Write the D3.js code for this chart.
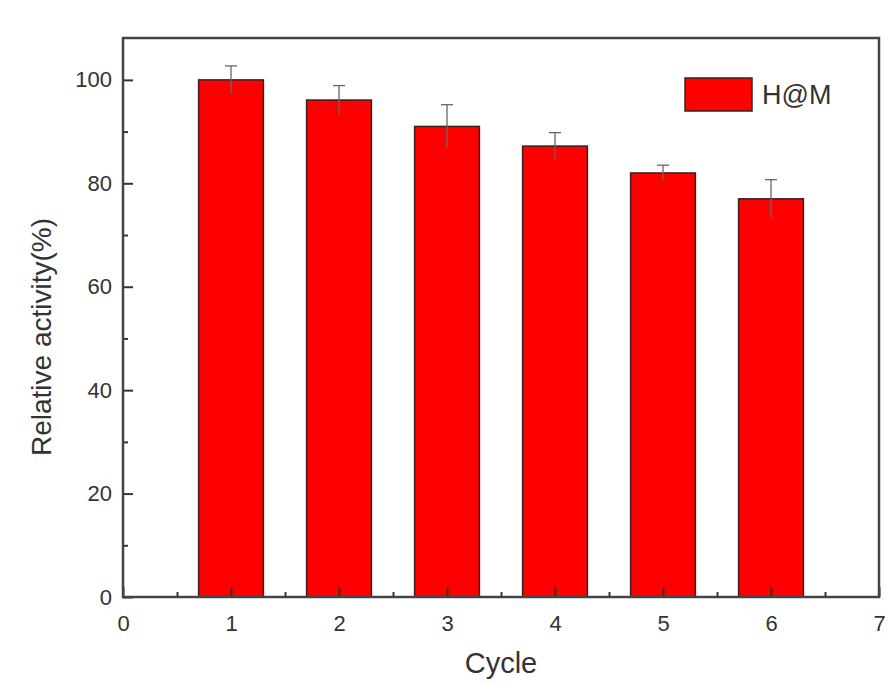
<!DOCTYPE html>
<html>
<head>
<meta charset="utf-8">
<script src="https://cdn.jsdelivr.net/npm/d3@7"></script>
<style>
    body { margin: 0; background: #fff; }
    svg text { font-family: "Liberation Sans", Arial, sans-serif; fill: #333; }
</style>
</head>
<body>
<div id="chart-area"></div>
<script>
// data
const cycles = [1, 2, 3, 4, 5, 6];
const activity = [100, 96.1, 91.0, 87.2, 82.0, 77.0];
const errors = [2.7, 2.8, 4.2, 2.6, 1.5, 3.7];
const xTicks = [0, 1, 2, 3, 4, 5, 6, 7];
const yTicks = [0, 20, 40, 60, 80, 100];
const seriesName = "H@M";

(function () {
    'use strict';

    const MARGIN = {LEFT: 123, RIGHT: 9, TOP: 38, BOTTOM: 87};
    const WIDTH = 888 - MARGIN.LEFT - MARGIN.RIGHT;
    const HEIGHT = 684 - MARGIN.TOP - MARGIN.BOTTOM;

    const svg = d3.select("#chart-area").append("svg")
        .attr("width", 888)
        .attr("height", 684);
    const graph = svg.append("g")
        .attr("transform", `translate(${MARGIN.LEFT}, ${MARGIN.TOP})`);

    const xScale = d3.scaleLinear().domain([0, 7]).range([0, WIDTH]);
    const yScale = d3.scaleLinear().domain([0, 108.1]).range([HEIGHT, 0]);
    const barW = xScale(0.6) - xScale(0);

    // bars
    graph.selectAll("rect.bar")
        .data(cycles)
        .enter().append("rect")
        .attr("class", "bar")
        .attr("x", (d) => xScale(d) - barW / 2)
        .attr("y", (d, i) => yScale(activity[i]))
        .attr("width", barW)
        .attr("height", (d, i) => HEIGHT - yScale(activity[i]))
        .attr("fill", "#ff0000")
        .attr("stroke", "#3a2020")
        .attr("stroke-width", 1.5);

    // error bars (upper half shows above the bar, lower half inside)
    const err = graph.append("g").attr("stroke", "#666").attr("stroke-width", 1.3);
    cycles.forEach((c, i) => {
        const x = xScale(c);
        err.append("line")
            .attr("x1", x).attr("x2", x)
            .attr("y1", yScale(activity[i] + errors[i]))
            .attr("y2", yScale(activity[i] - errors[i]));
        err.append("line")
            .attr("x1", x - 6).attr("x2", x + 6)
            .attr("y1", yScale(activity[i] + errors[i]))
            .attr("y2", yScale(activity[i] + errors[i]));
    });

    // axes, ticks pointing inward
    const xAxis = graph.append("g")
        .attr("transform", `translate(0, ${HEIGHT})`)
        .call(d3.axisBottom(xScale).tickValues(xTicks).tickSize(-10).tickPadding(18)
            .tickFormat(d3.format("d")));
    graph.append("g")
        .attr("transform", `translate(0, ${HEIGHT})`)
        .call(d3.axisBottom(xScale).tickValues(xTicks.slice(0, -1).map(v => v + 0.5))
            .tickSize(-5).tickFormat(""));

    const yAxis = graph.append("g")
        .call(d3.axisLeft(yScale).tickValues(yTicks).tickSize(-10).tickPadding(11)
            .tickFormat(d3.format("d")));
    graph.append("g")
        .call(d3.axisLeft(yScale).tickValues(yTicks.slice(0, -1).map(v => v + 10))
            .tickSize(-5).tickFormat(""));

    graph.selectAll(".domain").remove();
    graph.selectAll(".tick line").attr("stroke", "#333").attr("stroke-width", 2);
    xAxis.selectAll("text").style("font-size", "22px").attr("fill", "#333");
    yAxis.selectAll("text").style("font-size", "22px").attr("fill", "#333");

    // frame
    graph.append("rect")
        .attr("width", WIDTH)
        .attr("height", HEIGHT)
        .attr("fill", "none")
        .attr("stroke", "#444")
        .attr("stroke-width", 2.5);

    // axis titles
    svg.append("text")
        .attr("x", 501)
        .attr("y", 673)
        .attr("text-anchor", "middle")
        .style("font-size", "29px")
        .text("Cycle");

    svg.append("text")
        .attr("transform", "translate(51, 337) rotate(-90)")
        .attr("text-anchor", "middle")
        .style("font-size", "28px")
        .text("Relative activity(%)");

    // legend
    const legend = svg.append("g").attr("transform", "translate(685, 78)");
    legend.append("rect")
        .attr("width", 67)
        .attr("height", 33)
        .attr("fill", "#ff0000")
        .attr("stroke", "#3a2020")
        .attr("stroke-width", 1.5);
    legend.append("text")
        .attr("x", 77)
        .attr("y", 26)
        .style("font-size", "27px")
        .text(seriesName);
})();
</script>
</body>
</html>
